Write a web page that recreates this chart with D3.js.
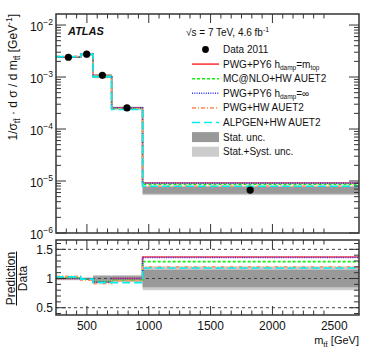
<!DOCTYPE html>
<html>
<head>
<meta charset="utf-8">
<script src="https://d3js.org/d3.v7.min.js"></script>
<style>
  body { margin: 0; background: #fff; }
  text { font-family: "Liberation Sans", Arial, sans-serif; }
</style>
</head>
<body>
<div id="chart"></div>
<script>
// bin edges in m_tt [GeV]
let binEdges = [250, 450, 550, 700, 950, 2700];
let dataX = [350, 498, 625, 824, 1820];
let dataY = [2.4e-3, 2.75e-3, 1.08e-3, 2.55e-4, 6.7e-6];
// relative uncertainties per bin
let statUnc = [0.01, 0.01, 0.04, 0.04, 0.15];
let totUnc = [0.03, 0.02, 0.06, 0.06, 0.20];
// prediction / data per bin
let ratioPwgPy6 = [1.00, 0.99, 0.94, 1.00, 1.37];
let ratioMcnlo = [1.01, 0.99, 0.95, 0.97, 1.29];
let ratioPwgPy6Inf = [1.00, 0.99, 0.94, 1.00, 1.36];
let ratioPwgHw = [1.04, 0.97, 0.91, 0.96, 1.20];
let ratioAlpgen = [1.03, 0.99, 0.93, 0.93, 1.18];

let xTicks = [500, 1000, 1500, 2000, 2500];
let topTicks = [1e-6, 1e-5, 1e-4, 1e-3, 1e-2];
let ratioTicks = [0.5, 1, 1.5];

let models = [
  {name: "PWG+PY6 h", sub: "damp", rest: "=m", sub2: "top", r: ratioPwgPy6, color: "#ff3b3b", dash: null},
  {name: "MC@NLO+HW AUET2", r: ratioMcnlo, color: "#11ee11", dash: "3,2"},
  {name: "PWG+PY6 h", sub: "damp", rest: "=\u221e", r: ratioPwgPy6Inf, color: "#3333ff", dash: "1,1.3"},
  {name: "PWG+HW AUET2", r: ratioPwgHw, color: "#ff9966", dash: "4,2,1,2"},
  {name: "ALPGEN+HW AUET2", r: ratioAlpgen, color: "#00f0f0", dash: "8,4"}
];

let W = 374, H = 359;
let svg = d3.select("#chart").append("svg").attr("width", W).attr("height", H);

let x = d3.scaleLinear().domain([250, 2700]).range([56, 359]);
let yTop = d3.scaleLog().domain([1e-6, 0.0163]).range([233, 14]);
let yRat = d3.scaleLinear().domain([0.375, 1.66]).range([315, 240]);

let bins = d3.range(5);

// ---- top panel bands
let topG = svg.append("g");
topG.selectAll("rect.tot").data(bins).enter().append("rect")
  .attr("x", i => x(binEdges[i])).attr("width", i => x(binEdges[i + 1]) - x(binEdges[i]))
  .attr("y", i => yTop(dataY[i] * (1 + totUnc[i])))
  .attr("height", i => yTop(dataY[i] * (1 - totUnc[i])) - yTop(dataY[i] * (1 + totUnc[i])))
  .attr("fill", "#cccccc");
topG.selectAll("rect.stat").data(bins).enter().append("rect")
  .attr("x", i => x(binEdges[i])).attr("width", i => x(binEdges[i + 1]) - x(binEdges[i]))
  .attr("y", i => yTop(dataY[i] * (1 + statUnc[i])))
  .attr("height", i => yTop(dataY[i] * (1 - statUnc[i])) - yTop(dataY[i] * (1 + statUnc[i])))
  .attr("fill", "#999999");

function stepPath(vals, yS) {
  let p = d3.path();
  bins.forEach(i => {
    if (i == 0) p.moveTo(x(binEdges[0]), yS(vals[0]));
    else p.lineTo(x(binEdges[i]), yS(vals[i]));
    p.lineTo(x(binEdges[i + 1]), yS(vals[i]));
  });
  return p.toString();
}

models.forEach(m => {
  let vals = m.r.map((r, i) => r * dataY[i]);
  topG.append("path").attr("d", stepPath(vals, yTop))
    .attr("fill", "none").attr("stroke", m.color).attr("stroke-width", 1.6)
    .attr("stroke-dasharray", m.dash);
});

topG.selectAll("circle").data(bins).enter().append("circle")
  .attr("cx", i => x(dataX[i])).attr("cy", i => yTop(dataY[i])).attr("r", 3.6)
  .attr("fill", "black");

// ---- ratio panel
let rat = svg.append("g");
rat.selectAll("rect.tot").data(bins).enter().append("rect")
  .attr("x", i => x(binEdges[i])).attr("width", i => x(binEdges[i + 1]) - x(binEdges[i]))
  .attr("y", i => yRat(1 + totUnc[i]))
  .attr("height", i => yRat(1 - totUnc[i]) - yRat(1 + totUnc[i]))
  .attr("fill", "#cccccc");
rat.selectAll("rect.stat").data(bins).enter().append("rect")
  .attr("x", i => x(binEdges[i])).attr("width", i => x(binEdges[i + 1]) - x(binEdges[i]))
  .attr("y", i => yRat(1 + statUnc[i]))
  .attr("height", i => yRat(1 - statUnc[i]) - yRat(1 + statUnc[i]))
  .attr("fill", "#999999");
rat.selectAll("line.ref").data(ratioTicks).enter().append("line")
  .attr("x1", 56).attr("x2", 359).attr("y1", d => yRat(d)).attr("y2", d => yRat(d))
  .attr("stroke", "#444").attr("stroke-width", 1).attr("stroke-dasharray", "3,3");
models.forEach(m => {
  rat.append("path").attr("d", stepPath(m.r, yRat))
    .attr("fill", "none").attr("stroke", m.color).attr("stroke-width", 1.6)
    .attr("stroke-dasharray", m.dash);
});

// ---- frames and ticks
function frame(g, y0, y1) {
  g.append("rect").attr("x", 56).attr("y", y0).attr("width", 303).attr("height", y1 - y0)
    .attr("fill", "none").attr("stroke", "#333").attr("stroke-width", 1.5);
}
function xTickMarks(g, y0, y1) {
  let step = 500 / 6;
  d3.range(0, 27).forEach(k => {
    let v = 250 + step * k;
    if (v <= 252 || v >= 2698) return;
    let major = (k % 6) == 3;
    let len = major ? 9 : 4.5;
    g.append("line").attr("x1", x(v)).attr("x2", x(v)).attr("y1", y1).attr("y2", y1 - len)
      .attr("stroke", "#333").attr("stroke-width", 1);
    g.append("line").attr("x1", x(v)).attr("x2", x(v)).attr("y1", y0).attr("y2", y0 + len)
      .attr("stroke", "#333").attr("stroke-width", 1);
  });
}
frame(topG, 14, 233);
frame(rat, 240, 315);
xTickMarks(topG, 14, 233);
xTickMarks(rat, 240, 315);

// log y ticks
for (let e = -6; e <= -2; e++) {
  for (let k = 1; k <= 9; k++) {
    let v = k * Math.pow(10, e);
    if (v > 0.0163) continue;
    let len = k == 1 ? 10 : 5;
    let yy = yTop(v);
    topG.append("line").attr("x1", 56).attr("x2", 56 + len).attr("y1", yy).attr("y2", yy)
      .attr("stroke", "#333");
    topG.append("line").attr("x1", 359).attr("x2", 359 - len).attr("y1", yy).attr("y2", yy)
      .attr("stroke", "#333");
  }
}
topTicks.forEach(v => {
  let e = Math.round(Math.log10(v));
  let t = topG.append("text").attr("x", 53).attr("y", yTop(v) + 6)
    .attr("text-anchor", "end").attr("font-size", 12).attr("fill", "#111");
  t.append("tspan").text("10");
  t.append("tspan").attr("dy", -6).attr("font-size", 8.5).text("\u2212" + (-e));
});

// ratio y ticks
d3.range(4, 17).forEach(k => {
  let v = k / 10;
  let major = k % 5 == 0;
  let len = major ? 10 : 5;
  let yy = yRat(v);
  rat.append("line").attr("x1", 56).attr("x2", 56 + len).attr("y1", yy).attr("y2", yy).attr("stroke", "#333");
  rat.append("line").attr("x1", 359).attr("x2", 359 - len).attr("y1", yy).attr("y2", yy).attr("stroke", "#333");
});
ratioTicks.forEach(v => {
  rat.append("text").attr("x", 53).attr("y", yRat(v) + 4.5).attr("text-anchor", "end")
    .attr("font-size", 12).attr("fill", "#111").text(v);
});

xTicks.forEach(v => {
  rat.append("text").attr("x", x(v)).attr("y", 330).attr("text-anchor", "middle")
    .attr("font-size", 12).attr("fill", "#111").text(v);
});

// x title
let xt = svg.append("text").attr("x", 359).attr("y", 344).attr("text-anchor", "end")
  .attr("font-size", 11).attr("fill", "#111");
xt.append("tspan").text("m");
xt.append("tspan").attr("dy", 3).attr("font-size", 8).text("tt\u0304");
xt.append("tspan").attr("dy", -3).text(" [GeV]");

// top y title
let yt = svg.append("text").attr("transform", "rotate(-90)").attr("x", -14).attr("y", 17)
  .attr("text-anchor", "end").attr("font-size", 12).attr("fill", "#111");
yt.append("tspan").text("1/\u03c3");
yt.append("tspan").attr("dy", 3).attr("font-size", 8.5).text("tt\u0304");
yt.append("tspan").attr("dy", -3).text(" \u00b7 d \u03c3 / d m");
yt.append("tspan").attr("dy", 3).attr("font-size", 8.5).text("tt\u0304");
yt.append("tspan").attr("dy", -3).text(" [GeV");
yt.append("tspan").attr("dy", -5).attr("font-size", 8.5).text("-1");
yt.append("tspan").attr("dy", 5).text("]");

// ratio y title
let rc = yRat(1);
svg.append("text").attr("transform", "rotate(-90)").attr("x", -rc).attr("y", 14.5)
  .attr("text-anchor", "middle").attr("font-size", 12).attr("fill", "#111").text("Prediction");
svg.append("line").attr("x1", 16.5).attr("x2", 16.5).attr("y1", rc - 27).attr("y2", rc + 27)
  .attr("stroke", "#111").attr("stroke-width", 1);
svg.append("text").attr("transform", "rotate(-90)").attr("x", -rc).attr("y", 27)
  .attr("text-anchor", "middle").attr("font-size", 12).attr("fill", "#111").text("Data");

// ATLAS label
svg.append("text").attr("x", 68).attr("y", 35).attr("font-size", 11)
  .attr("font-weight", "bold").attr("font-style", "italic").attr("fill", "#111").text("ATLAS");

// legend
let lg = svg.append("g").attr("font-size", 10).attr("fill", "#111");
let lt = lg.append("text").attr("x", 186).attr("y", 36);
lt.append("tspan").text("\u221as = 7 TeV, 4.6 fb");
lt.append("tspan").attr("dy", -4).attr("font-size", 7).text("-1");

let rowY = d3.range(8).map(i => 49.5 + i * 14.6);
lg.append("circle").attr("cx", 205.5).attr("cy", rowY[0]).attr("r", 3.4).attr("fill", "black");
lg.append("text").attr("x", 223).attr("y", rowY[0] + 3.5).text("Data 2011");
models.forEach((m, i) => {
  let yy = rowY[i + 1];
  lg.append("line").attr("x1", 192).attr("x2", 219).attr("y1", yy).attr("y2", yy)
    .attr("stroke", m.color).attr("stroke-width", 1.6).attr("stroke-dasharray", m.dash);
  let t = lg.append("text").attr("x", 223).attr("y", yy + 3.5);
  t.append("tspan").text(m.name);
  if (m.sub) {
    t.append("tspan").attr("dy", 2.5).attr("font-size", 6.5).text(m.sub);
    t.append("tspan").attr("dy", -2.5).text(m.rest);
    if (m.sub2) t.append("tspan").attr("dy", 2.5).attr("font-size", 6.5).text(m.sub2);
  }
});
lg.append("rect").attr("x", 192).attr("y", rowY[6] - 5).attr("width", 27).attr("height", 10).attr("fill", "#999999");
lg.append("text").attr("x", 223).attr("y", rowY[6] + 3.5).text("Stat. unc.");
lg.append("rect").attr("x", 192).attr("y", rowY[7] - 5).attr("width", 27).attr("height", 10).attr("fill", "#cccccc");
lg.append("text").attr("x", 223).attr("y", rowY[7] + 3.5).text("Stat.+Syst. unc.");
</script>
</body>
</html>
